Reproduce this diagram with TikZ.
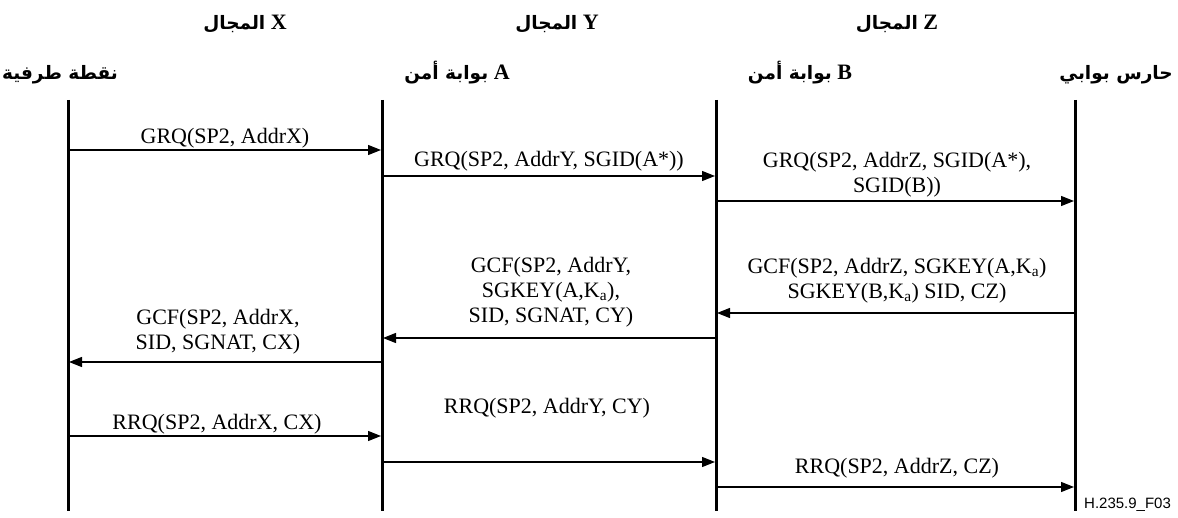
\documentclass[tikz,border=0pt]{standalone}
\usepackage{fontspec}
\setmainfont{Liberation Serif}
\newfontfamily\arabicfont[Script=Arabic]{DejaVu Sans}
\newfontfamily\figidfont{Liberation Sans}
\TeXXeTstate=1
\usetikzlibrary{arrows.meta, positioning}

\newcommand{\msgfont}{\fontsize{22}{25}\selectfont}
\newcommand{\hdrfont}{\fontsize{22}{24}\selectfont\bfseries}
\newcommand{\arabtxt}[1]{{\arabicfont\fontsize{18.5}{20}\selectfont #1}}

\begin{document}
\begin{tikzpicture}[x=1pt, y=-1pt,
    lifeline/.style={line width=3pt},
    msg/.style={line width=1.2pt, -{Triangle[length=13pt,width=10pt]}, shorten >=1pt},
    msglabel/.style={font=\msgfont, align=center, inner sep=0pt, anchor=south},
    party/.style={font=\hdrfont, inner sep=0pt, anchor=base}]
  \useasboundingbox (0,0) rectangle (1178,518);

  % líneas de vida de las cuatro entidades
  \foreach \n/\x in {ep/68, sgA/382, sgB/716, gk/1075} {
    \coordinate (\n-top) at (\x,100);
    \coordinate (\n-bot) at (\x,511);
    \draw[lifeline] (\n-top) -- (\n-bot);
  }

  % alturas de los mensajes
  \foreach \m/\y in {m1/150, m2/176, m3/201, m4/313, m5/338, m6/362, m7/436, m8/462, m9/487}
    \coordinate (\m) at (0,\y);

  % dominios
  \node[party] (domX) at (245,30) {\arabtxt{المجال} X};
  \node[party] (domY) at (557,30) {\arabtxt{المجال} Y};
  \node[party] (domZ) at (897,30) {\arabtxt{المجال} Z};

  % entidades
  \node[party] (nEp)  at (60,80)   {\arabtxt{\beginR نقطة طرفية\endR}};
  \node[party] (nSgA) at (457,80)  {\arabtxt{\beginR بوابة أمن\endR} A};
  \node[party] (nSgB) at (800,80)  {\arabtxt{\beginR بوابة أمن\endR} B};
  \node[party] (nGk)  at (1116,80) {\arabtxt{\beginR حارس بوابي\endR}};

  % GRQ — hacia el gatekeeper
  \draw[msg] (ep-top |- m1) -- (sgA-top |- m1);
  \node[msglabel] (l1) at (225,148) {GRQ(SP2, AddrX)};
  \draw[msg] (sgA-top |- m2) -- (sgB-top |- m2);
  \node[msglabel] (l2) at (549,171) {GRQ(SP2, AddrY, SGID(A*))};
  \draw[msg] (sgB-top |- m3) -- (gk-top |- m3);
  \node[msglabel] (l3) at (897,197) {GRQ(SP2, AddrZ, SGID(A*),\\SGID(B))};

  % GCF — de vuelta al terminal
  \draw[msg] (gk-top |- m4) -- (sgB-top |- m4);
  \node[msglabel] (l4) at (897,303) {GCF(SP2, AddrZ, SGKEY(A,K\textsubscript{a})\\SGKEY(B,K\textsubscript{a}) SID, CZ)};
  \draw[msg] (sgB-top |- m5) -- (sgA-top |- m5);
  \node[msglabel] (l5) at (551,327) {GCF(SP2, AddrY,\\SGKEY(A,K\textsubscript{a}),\\SID, SGNAT, CY)};
  \draw[msg] (sgA-top |- m6) -- (ep-top |- m6);
  \node[msglabel] (l6) at (218,354) {GCF(SP2, AddrX,\\SID, SGNAT, CX)};

  % RRQ
  \draw[msg] (ep-top |- m7) -- (sgA-top |- m7);
  \node[msglabel] (l7) at (217,434) {RRQ(SP2, AddrX, CX)};
  \draw[msg] (sgA-top |- m8) -- (sgB-top |- m8);
  \node[msglabel] (l8) at (547,418) {RRQ(SP2, AddrY, CY)};
  \draw[msg] (sgB-top |- m9) -- (gk-top |- m9);
  \node[msglabel] (l9) at (897,478) {RRQ(SP2, AddrZ, CZ)};

  \node[font=\figidfont\fontsize{15}{17}\selectfont, anchor=west, inner sep=0pt] (figid) at (1084,505) {H.235.9\_F03};
\end{tikzpicture}
\end{document}
